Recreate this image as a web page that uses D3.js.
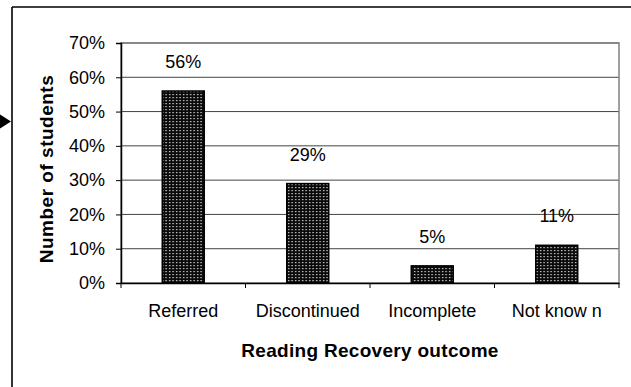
<!DOCTYPE html>
<html>
<head>
<meta charset="utf-8">
<script src="https://cdn.jsdelivr.net/npm/d3@7"></script>
<style>
  html, body { margin: 0; padding: 0; background: #fff; }
  svg { display: block; font-family: "Liberation Sans", Arial, sans-serif; }
</style>
</head>
<body>
<svg id="chart" width="631" height="387"></svg>
<script>
// Reading Recovery outcomes, share of students
const categories = ["Referred", "Discontinued", "Incomplete", "Not know n"];
const percentages = [56, 29, 5, 11];
const yTickValues = [0, 10, 20, 30, 40, 50, 60, 70];
const xTitle = "Reading Recovery outcome";
const yTitle = "Number of students";

const svg = d3.select("#chart");
const plot = { left: 121, right: 619, top: 43, bottom: 283 };

const x = d3.scaleBand()
  .domain(categories)
  .range([plot.left, plot.right])
  .paddingInner(0.663)
  .paddingOuter(0.3315);

const y = d3.scaleLinear()
  .domain([0, 70])
  .range([plot.bottom, plot.top]);

// dotted fill for the bars: light dots on black
const defs = svg.append("defs");
const pat = defs.append("pattern")
  .attr("id", "dots")
  .attr("patternUnits", "userSpaceOnUse")
  .attr("width", 3.5)
  .attr("height", 3);
pat.append("rect").attr("width", 3.5).attr("height", 3).attr("fill", "#0a0a0a");
pat.append("rect").attr("x", 1).attr("y", 1).attr("width", 1.3).attr("height", 1.2).attr("fill", "#e0e0e0");

// outer frame (top and left edges) and the pointer arrow
svg.append("line")
  .attr("x1", 12).attr("x2", 631).attr("y1", 7).attr("y2", 7)
  .attr("stroke", "#000").attr("stroke-width", 1.6);
svg.append("line")
  .attr("x1", 12).attr("x2", 12).attr("y1", 7).attr("y2", 387)
  .attr("stroke", "#000").attr("stroke-width", 1.6);
svg.append("path")
  .attr("d", "M0,114.5 L11,121.5 L0,128.5 Z")
  .attr("fill", "#000");

// gridlines
svg.append("g")
  .selectAll("line")
  .data(yTickValues.filter(v => v > 0))
  .join("line")
  .attr("x1", plot.left).attr("x2", plot.right)
  .attr("y1", d => y(d)).attr("y2", d => y(d))
  .attr("stroke", "#444").attr("stroke-width", 1);

// plot area border
svg.append("rect")
  .attr("x", plot.left).attr("y", plot.top)
  .attr("width", plot.right - plot.left).attr("height", plot.bottom - plot.top)
  .attr("fill", "none").attr("stroke", "#808080").attr("stroke-width", 1.5);

// bars
svg.append("g")
  .selectAll("rect")
  .data(percentages)
  .join("rect")
  .attr("x", (d, i) => x(categories[i]))
  .attr("width", x.bandwidth())
  .attr("y", d => y(d))
  .attr("height", d => y(0) - y(d))
  .attr("fill", "url(#dots)")
  .attr("stroke", "#000")
  .attr("stroke-width", 1.5);

// value labels
svg.append("g")
  .selectAll("text")
  .data(percentages)
  .join("text")
  .attr("x", (d, i) => x(categories[i]) + x.bandwidth() / 2)
  .attr("y", d => y(d) - 23)
  .attr("text-anchor", "middle")
  .attr("font-size", 18)
  .attr("fill", "#000")
  .text(d => d + "%");

// y axis
const yAxis = svg.append("g")
  .attr("transform", `translate(${plot.left},0)`)
  .call(d3.axisLeft(y).tickValues(yTickValues).tickFormat(d => d + "%").tickSize(5).tickPadding(11));
yAxis.select(".domain").attr("stroke", "#000").attr("stroke-width", 1.5);
yAxis.selectAll(".tick line").attr("stroke", "#000");
yAxis.selectAll("text")
  .attr("font-size", 18)
  .attr("font-family", "Liberation Sans, Arial, sans-serif")
  .attr("fill", "#000");

// x axis with ticks on category boundaries
const xAxis = svg.append("g")
  .attr("transform", `translate(0,${plot.bottom})`)
  .call(d3.axisBottom(x).tickSize(0).tickPadding(21));
xAxis.select(".domain").attr("stroke", "#000").attr("stroke-width", 1.5);
xAxis.selectAll("text")
  .attr("font-size", 18)
  .attr("font-family", "Liberation Sans, Arial, sans-serif")
  .attr("fill", "#000");
const step = x.step();
svg.append("g")
  .selectAll("line")
  .data(d3.range(categories.length + 1))
  .join("line")
  .attr("x1", i => plot.left + i * step)
  .attr("x2", i => plot.left + i * step)
  .attr("y1", plot.bottom).attr("y2", plot.bottom + 5)
  .attr("stroke", "#000");

// axis titles
svg.append("text")
  .attr("x", (plot.left + plot.right) / 2)
  .attr("y", 357)
  .attr("text-anchor", "middle")
  .attr("font-size", 19)
  .attr("font-weight", "bold")
  .attr("letter-spacing", 0.3)
  .text(xTitle);

svg.append("text")
  .attr("transform", `translate(53,${(plot.top + plot.bottom) / 2 + 6}) rotate(-90)`)
  .attr("text-anchor", "middle")
  .attr("font-size", 19)
  .attr("font-weight", "bold")
  .attr("letter-spacing", 0.5)
  .text(yTitle);
</script>
</body>
</html>
